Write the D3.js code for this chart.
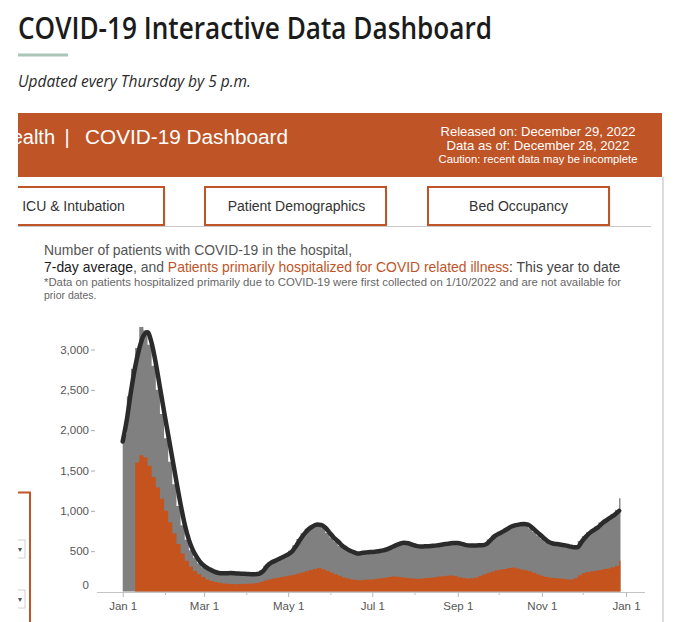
<!DOCTYPE html>
<html>
<head>
<meta charset="utf-8">
<script src="https://cdn.jsdelivr.net/npm/d3@7"></script>
<style>
  html, body { margin: 0; padding: 0; background: #fff; }
  svg { display: block; }
</style>
</head>
<body>
<svg id="chart" width="680" height="622"></svg>
<script>
// ---------------- DATA ----------------
// 3-day bins starting Jan 1, 2022 (last bin Dec 27, data through Dec 28, 2022)
const binStart = new Date(2022, 0, 1);
const dataEnd = new Date(2022, 11, 28);
const binDays = 3;

// Total patients with COVID-19 in hospital (grey bars)
const hospitalized = [
  1950, 2420, 2760, 3020, 3280, 3240, 3060, 2800, 2500, 2200,
  1900, 1610, 1330, 1060, 820, 640, 510, 420, 350, 300,
  272, 250, 232, 226, 224, 230, 226, 222, 220, 216,
  214, 216, 225, 262, 318, 360, 385, 412, 436, 462,
  505, 572, 652, 722, 778, 815, 840, 822, 785, 725,
  668, 620, 568, 532, 502, 482, 468, 478, 486, 490,
  494, 502, 512, 528, 550, 575, 595, 606, 596, 578,
  563, 556, 560, 563, 567, 574, 582, 590, 596, 604,
  598, 588, 574, 568, 571, 573, 576, 595, 645, 692,
  720, 748, 778, 808, 825, 835, 845, 828, 785, 740,
  695, 650, 612, 594, 586, 578, 570, 558, 546, 552,
  625, 684, 735, 768, 805, 855, 890, 925, 960, 1010,
  1155
];

// Patients primarily hospitalized for COVID related illness (orange bars), collected from 1/10/2022
const primaryCovid = [
  null, null, null, 1600, 1690, 1660, 1560, 1420, 1290, 1150,
  1000, 860, 720, 590, 470, 380, 310, 255, 215, 180,
  150, 130, 118, 108, 100, 96, 92, 90, 92, 95,
  96, 98, 105, 118, 135, 150, 162, 172, 180, 190,
  198, 208, 222, 235, 252, 268, 280, 290, 275, 258,
  235, 215, 195, 175, 160, 150, 142, 140, 145, 148,
  150, 158, 165, 172, 180, 185, 182, 176, 170, 165,
  160, 158, 162, 166, 172, 178, 185, 190, 195, 198,
  190, 178, 168, 162, 165, 175, 195, 215, 232, 248,
  262, 272, 280, 290, 298, 285, 272, 262, 250, 232,
  212, 195, 180, 172, 168, 160, 158, 152, 150, 165,
  200, 230, 242, 250, 258, 268, 278, 285, 300, 320,
  380
];

// 7-day average of patients with COVID-19 in hospital (black line)
const sevenDayAvg = [
  1860, 2130, 2480, 2780, 3010, 3170, 3215, 3080, 2830, 2530,
  2230, 1940, 1650, 1360, 1080, 830, 640, 510, 420, 350,
  305, 275, 250, 232, 225, 225, 228, 226, 222, 220,
  218, 215, 215, 220, 255, 320, 360, 385, 410, 435,
  460, 500, 570, 650, 720, 775, 810, 830, 825, 790,
  730, 670, 625, 570, 535, 505, 485, 470, 480, 485,
  490, 492, 500, 510, 525, 548, 572, 592, 605, 598,
  580, 565, 558, 560, 562, 566, 572, 580, 588, 595,
  602, 600, 590, 575, 570, 570, 572, 574, 590, 640,
  690, 718, 745, 775, 805, 822, 832, 838, 830, 790,
  745, 700, 655, 615, 595, 588, 580, 572, 560, 548,
  550, 620, 680, 730, 765, 800, 850, 885, 920, 955,
  1000
];

const yTicks = [0, 500, 1000, 1500, 2000, 2500, 3000];
const xTickLabels = ["Jan 1", "Mar 1", "May 1", "Jul 1", "Sep 1", "Nov 1", "Jan 1"];
const buttonLabels = ["ICU & Intubation", "Patient Demographics", "Bed Occupancy"];

// ---------------- LAYOUT ----------------
const svg = d3.select("#chart");
const ORANGE = "#bf5426";
const BAR_ORANGE = "#c4531e";
const GREY = "#808080";
const FONT = "'Liberation Sans', Arial, sans-serif";

const dates = d3.timeDay.range(binStart, d3.timeDay.offset(dataEnd, 1), binDays);
const rows = dates.map((d, i) => ({
  date: d,
  total: hospitalized[i],
  primary: primaryCovid[i],
  avg: sevenDayAvg[i]
}));
// terminal point closing the last bin (step areas)
const stepRows = rows.concat([{ date: dataEnd, total: rows[rows.length - 1].total, primary: rows[rows.length - 1].primary }]);

// Page header
svg.append("text")
  .attr("x", 18).attr("y", 39)
  .attr("font-family", "'Open Sans', 'Noto Sans', sans-serif")
  .attr("font-size", 30).attr("font-weight", 600)
  .attr("fill", "#1b1b1b")
  .attr("textLength", 474).attr("lengthAdjust", "spacingAndGlyphs")
  .text("COVID-19 Interactive Data Dashboard");

svg.append("rect").attr("x", 18).attr("y", 53.5).attr("width", 50).attr("height", 3)
  .attr("fill", "#a9c6b7");

svg.append("text")
  .attr("x", 18).attr("y", 87)
  .attr("font-family", "'Open Sans', 'Noto Sans', sans-serif")
  .attr("font-size", 16).attr("font-style", "italic")
  .attr("fill", "#2a2a2a")
  .attr("textLength", 233).attr("lengthAdjust", "spacingAndGlyphs")
  .text("Updated every Thursday by 5 p.m.");

// Clip for the embedded dashboard (cut at left edge)
svg.append("defs").append("clipPath").attr("id", "frame")
  .append("rect").attr("x", 18).attr("y", 100).attr("width", 650).attr("height", 530);

const frame = svg.append("g").attr("clip-path", "url(#frame)");

// Banner
frame.append("rect").attr("x", 18).attr("y", 113).attr("width", 644).attr("height", 64)
  .attr("fill", ORANGE);

frame.append("text").attr("x", 55).attr("y", 143.5).attr("text-anchor", "end")
  .attr("font-family", FONT).attr("font-size", 20).attr("fill", "#fff").text("Health");
frame.append("text").attr("x", 67).attr("y", 143.5).attr("text-anchor", "middle")
  .attr("font-family", FONT).attr("font-size", 20).attr("fill", "#fff").text("|");
frame.append("text").attr("x", 85).attr("y", 143.5)
  .attr("font-family", FONT).attr("font-size", 20.5).attr("fill", "#fff")
  .attr("textLength", 203).attr("lengthAdjust", "spacingAndGlyphs")
  .text("COVID-19 Dashboard");

const bannerRight = [
  {t: "Released on: December 29, 2022", y: 135.5, fs: 13, w: 195},
  {t: "Data as of: December 28, 2022", y: 150, fs: 13, w: 183},
  {t: "Caution: recent data may be incomplete", y: 163, fs: 11.2, w: 199}
];
frame.selectAll("text.br").data(bannerRight).join("text")
  .attr("class", "br")
  .attr("x", 538).attr("y", d => d.y).attr("text-anchor", "middle")
  .attr("font-family", FONT).attr("font-size", d => d.fs).attr("fill", "#fff")
  .attr("textLength", d => d.w).attr("lengthAdjust", "spacingAndGlyphs")
  .text(d => d.t);

// Right edge of the embedded frame
svg.append("line").attr("x1", 663).attr("x2", 663).attr("y1", 177).attr("y2", 622)
  .attr("stroke", "#dcdcdc").attr("stroke-width", 2);

// Buttons
const buttons = [
  {x: -20, w: 184, cx: 73.5},
  {x: 205, w: 181, cx: 296.5},
  {x: 428, w: 181, cx: 518.5}
];
buttons.forEach((b, i) => {
  frame.append("rect").attr("x", b.x + 1.5).attr("y", 189).attr("width", b.w).attr("height", 38)
    .attr("fill", "#e6e6e6");
  frame.append("rect").attr("x", b.x).attr("y", 187).attr("width", b.w).attr("height", 38)
    .attr("fill", "#fff").attr("stroke", ORANGE).attr("stroke-width", 2);
  frame.append("text").attr("x", b.cx).attr("y", 211).attr("text-anchor", "middle")
    .attr("font-family", FONT).attr("font-size", 14).attr("fill", "#333")
    .text(buttonLabels[i]);
});
frame.append("line").attr("x1", 18).attr("x2", 651).attr("y1", 226.5).attr("y2", 226.5)
  .attr("stroke", "#c9c9c9").attr("stroke-width", 1);

// Chart headings
svg.append("text").attr("x", 44).attr("y", 255)
  .attr("font-family", FONT).attr("font-size", 14.5).attr("fill", "#555")
  .attr("textLength", 308).attr("lengthAdjust", "spacingAndGlyphs")
  .text("Number of patients with COVID-19 in the hospital,");

const h2 = svg.append("text").attr("x", 44).attr("y", 272)
  .attr("font-family", FONT).attr("font-size", 14.5);
h2.append("tspan").attr("fill", "#1a1a1a").text("7-day average");
h2.append("tspan").attr("fill", "#555").text(", and ");
h2.append("tspan").attr("fill", ORANGE).text("Patients primarily hospitalized for COVID related illness");
h2.append("tspan").attr("fill", "#444").text(": This year to date");
// fit the composite heading line to the reference width
const h2w = h2.node().getComputedTextLength();
h2.attr("font-size", 14.5 * 577 / h2w);

svg.append("text").attr("x", 44).attr("y", 286)
  .attr("font-family", FONT).attr("font-size", 10.5).attr("fill", "#666")
  .attr("textLength", 577).attr("lengthAdjust", "spacingAndGlyphs")
  .text("*Data on patients hospitalized primarily due to COVID-19 were first collected on 1/10/2022 and are not available for");
svg.append("text").attr("x", 44).attr("y", 299)
  .attr("font-family", FONT).attr("font-size", 10.5).attr("fill", "#666")
  .text("prior dates.");

// Left-side filter panel remnants
frame.append("path").attr("d", "M10,492.5 H30 V630")
  .attr("fill", "none").attr("stroke", ORANGE).attr("stroke-width", 2);
[540, 590].forEach(y => {
  frame.append("rect").attr("x", 10).attr("y", y).attr("width", 15).attr("height", 18)
    .attr("fill", "#fff").attr("stroke", "#d0d0d0").attr("stroke-width", 1);
  frame.append("text").attr("x", 20).attr("y", y + 12).attr("text-anchor", "middle")
    .attr("font-family", FONT).attr("font-size", 8).attr("fill", "#555").text("▾");
});

// ---------------- CHART ----------------
const x = d3.scaleTime()
  .domain([new Date(2022, 0, 1), new Date(2023, 0, 1)])
  .range([122.7, 626]);
const y = d3.scaleLinear().domain([0, 3000]).range([591.5, 349.5]);

const plot = svg.append("g");

// grey bars (stepped, one step per bin): all patients
plot.append("path").datum(stepRows)
  .attr("fill", GREY)
  .attr("d", d3.area().curve(d3.curveStepAfter)
    .x(d => x(d.date)).y0(y(0)).y1(d => y(d.total)));

// orange bars: primarily COVID
plot.append("path").datum(stepRows.filter(d => d.primary != null))
  .attr("fill", BAR_ORANGE)
  .attr("d", d3.area().curve(d3.curveStepAfter)
    .x(d => x(d.date)).y0(y(0)).y1(d => y(d.primary)));

// 7-day average line
plot.append("path").datum(rows)
  .attr("fill", "none")
  .attr("stroke", "#2b2b2b").attr("stroke-width", 4.5)
  .attr("stroke-linejoin", "round").attr("stroke-linecap", "round")
  .attr("d", d3.line().x(d => x(d.date)).y(d => y(d.avg)).curve(d3.curveMonotoneX));

// x axis
const axisY = 592;
plot.append("line").attr("x1", 97).attr("x2", 645).attr("y1", axisY + 0.5).attr("y2", axisY + 0.5)
  .attr("stroke", "#c4c4c4");

const monthTicks = d3.timeMonth.range(new Date(2022, 0, 1), new Date(2023, 0, 2));
const majorTicks = d3.timeMonth.every(2).range(new Date(2022, 0, 1), new Date(2023, 0, 2));
const xAxis = d3.axisBottom(x).tickValues(majorTicks)
  .tickFormat((d, i) => xTickLabels[i]).tickSize(5).tickPadding(5);
const xg = plot.append("g").attr("transform", `translate(0,${axisY})`).call(xAxis);
xg.select(".domain").remove();
xg.selectAll(".tick line").attr("stroke", "#b8b8b8");
xg.selectAll(".tick text").attr("font-family", FONT).attr("font-size", 11.5).attr("fill", "#555");

const minor = monthTicks.filter(m => m.getMonth() % 2 === 1);
plot.append("g").selectAll("line").data(minor).join("line")
  .attr("x1", d => x(d)).attr("x2", d => x(d))
  .attr("y1", axisY).attr("y2", axisY + 3)
  .attr("stroke", "#c4c4c4");

// y axis
const yAxis = d3.axisLeft(y).tickValues(yTicks.filter(v => v > 0))
  .tickFormat(d3.format(",")).tickSize(4).tickPadding(2);
const yg = plot.append("g").attr("transform", "translate(95,0)").call(yAxis);
yg.select(".domain").remove();
yg.selectAll(".tick line").attr("stroke", "#aaa");
yg.selectAll(".tick text").attr("font-family", FONT).attr("font-size", 11.5).attr("fill", "#555");
// zero label (no tick)
plot.append("text").attr("x", 89).attr("y", y(0) - 2.5).attr("text-anchor", "end")
  .attr("font-family", FONT).attr("font-size", 11.5).attr("fill", "#555")
  .text(d3.format(",")(yTicks[0]));
</script>
</body>
</html>
